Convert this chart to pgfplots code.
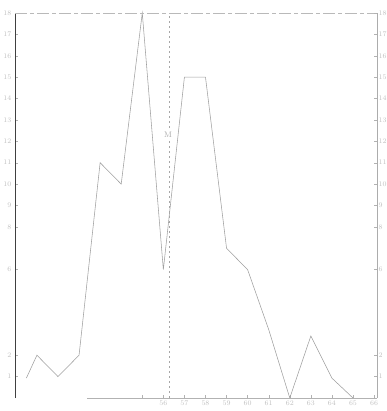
\documentclass[border=0pt]{standalone}
\usepackage{pgfplots}
\pgfplotsset{compat=1.18}
\begin{document}
\begin{tikzpicture}
\begin{axis}[name=ax, scale only axis, width=362pt, height=385pt,
  xmin=48.96, xmax=66.14, ymin=0, ymax=18,
  axis line style={draw=none},
  xtick={55,56,57,58,59,60,61,62,63,64,65,66},
  xticklabels={,56,57,58,59,60,61,62,63,64,65,66},
  xtick pos=bottom,
  ytick={1,2,6,8,9,10,11,12,13,14,15,16,17,18},
  ytick pos=left,
  tick style={gray!60, thin}, major tick length=3pt,
  tick label style={font=\scriptsize, text=gray!50},
  xticklabel style={yshift=1pt},
  clip=false]
  \addplot[gray!75, line width=0.55pt] coordinates {
    (49.5,0.93) (50,2) (51,1) (52,2) (53,11) (54,10) (55,18) (56,6)
    (57,15) (58,15) (59,7) (60,6) (61,3.2) (62,0) (63,2.9) (64,0.93) (65,0)};
  % frame
  \draw[gray!50!black, line width=0.7pt] (axis cs:48.96,0) -- (axis cs:48.96,18);
  \draw[gray!65, line width=0.5pt] (axis cs:66.14,0) -- (axis cs:66.14,18);
  \draw[gray!55, line width=0.5pt, dash pattern=on 12pt off 3pt on 4pt off 3pt] (axis cs:48.96,18) -- (axis cs:66.14,18);
  \draw[gray!60, line width=0.5pt] (axis cs:52.4,0) -- (axis cs:66.14,0);
  % M line
  \draw[gray!70, line width=0.5pt, dash pattern=on 2pt off 3pt] (axis cs:56.28,0) -- (axis cs:56.28,18);
  \node[fill=white, inner sep=1pt, text=gray!70, font=\footnotesize] at (axis cs:56.22,12.3) {M};
\end{axis}
\begin{axis}[scale only axis, width=362pt, height=385pt,
  xmin=48.96, xmax=66.14, ymin=0, ymax=18,
  axis line style={draw=none},
  xtick=\empty,
  ytick={1,2,6,8,9,10,11,12,13,14,15,16,17,18},
  ytick pos=right, yticklabel pos=right,
  tick style={gray!60, thin}, major tick length=3pt,
  yticklabel style={xshift=-2pt},
  tick label style={font=\scriptsize, text=gray!50}]
  \addplot[draw=none] coordinates {(50,1)};
\end{axis}
\pgfresetboundingbox
\path ([xshift=-15pt,yshift=-13pt]ax.south west) rectangle ([xshift=9pt,yshift=13pt]ax.north east);
\end{tikzpicture}
\end{document}
